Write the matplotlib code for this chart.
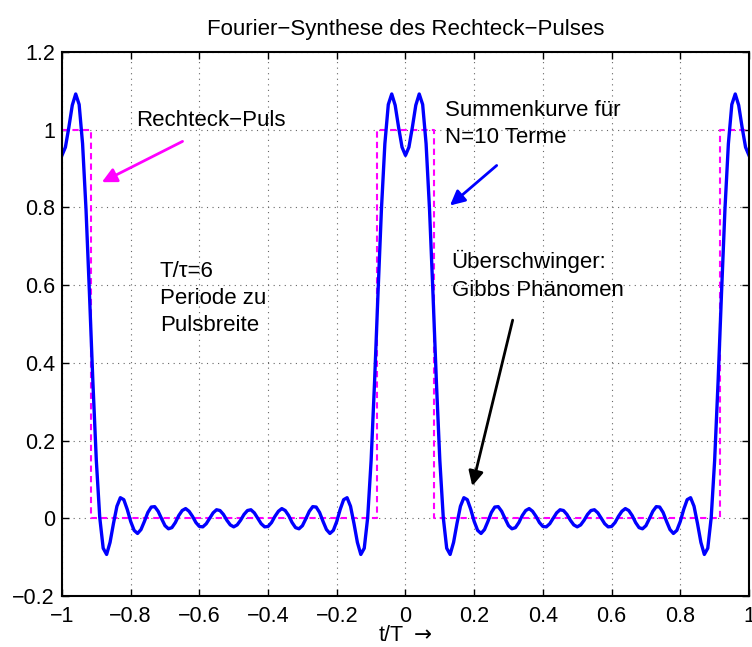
import matplotlib
matplotlib.use('Agg')
import matplotlib.pyplot as plt
import numpy as np

plt.rcParams['font.family'] = ['Liberation Sans', 'DejaVu Sans']
plt.rcParams['mathtext.fontset'] = 'dejavusans'
plt.rcParams['lines.scale_dashes'] = False

# Zeitachse t/T, Abtastung 0.01
t = np.linspace(-1, 1, 201)

summe = [
    0.934, 0.955, 1.006, 1.063, 1.092, 1.065, 0.964, 0.795, 0.579, 0.351,
    0.149, 0.002, -0.077, -0.093, -0.062, -0.013, 0.031, 0.053, 0.048, 0.023,
    -0.008, -0.031, -0.039, -0.029, -0.008, 0.015, 0.029, 0.030, 0.018, -0.001,
    -0.019, -0.027, -0.024, -0.011, 0.007, 0.020, 0.025, 0.018, 0.005, -0.011,
    -0.021, -0.022, -0.014, 0.000, 0.014, 0.022, 0.020, 0.010, -0.005, -0.017,
    -0.022,
    -0.017, -0.005, 0.010, 0.020, 0.022, 0.014, 0.000, -0.014, -0.022, -0.021,
    -0.011, 0.005, 0.018, 0.025, 0.020, 0.007, -0.011, -0.024, -0.027, -0.019,
    -0.001, 0.018, 0.030, 0.029, 0.015, -0.008, -0.029, -0.039, -0.031, -0.008,
    0.023, 0.048, 0.053, 0.031, -0.013, -0.062, -0.093, -0.077, 0.002, 0.149,
    0.351, 0.579, 0.795, 0.964, 1.065, 1.092, 1.063, 1.006, 0.955, 0.934,
    0.955, 1.006, 1.063, 1.092, 1.065, 0.964, 0.795, 0.579, 0.351,
    0.149, 0.002, -0.077, -0.093, -0.062, -0.013, 0.031, 0.053, 0.048, 0.023,
    -0.008, -0.031, -0.039, -0.029, -0.008, 0.015, 0.029, 0.030, 0.018, -0.001,
    -0.019, -0.027, -0.024, -0.011, 0.007, 0.020, 0.025, 0.018, 0.005, -0.011,
    -0.021, -0.022, -0.014, 0.000, 0.014, 0.022, 0.020, 0.010, -0.005, -0.017,
    -0.022,
    -0.017, -0.005, 0.010, 0.020, 0.022, 0.014, 0.000, -0.014, -0.022, -0.021,
    -0.011, 0.005, 0.018, 0.025, 0.020, 0.007, -0.011, -0.024, -0.027, -0.019,
    -0.001, 0.018, 0.030, 0.029, 0.015, -0.008, -0.029, -0.039, -0.031, -0.008,
    0.023, 0.048, 0.053, 0.031, -0.013, -0.062, -0.093, -0.077, 0.002, 0.149,
    0.351, 0.579, 0.795, 0.964, 1.065, 1.092, 1.063, 1.006, 0.955, 0.934,
]

# Rechteck-Puls (T/tau = 6)
puls_t = [-1.0, -0.9167, -0.9167, -0.0833, -0.0833, 0.0833, 0.0833, 0.9167, 0.9167, 1.0]
puls_y = [1, 1, 0, 0, 1, 1, 0, 0, 1, 1]

x_ticks = [-1, -0.8, -0.6, -0.4, -0.2, 0, 0.2, 0.4, 0.6, 0.8, 1]
x_labels = ['\u22121', '\u22120.8', '\u22120.6', '\u22120.4', '\u22120.2', '0',
            '0.2', '0.4', '0.6', '0.8', '1']
y_ticks = [-0.2, 0, 0.2, 0.4, 0.6, 0.8, 1, 1.2]
y_labels = ['\u22120.2', '0', '0.2', '0.4', '0.6', '0.8', '1', '1.2']

fig = plt.figure(figsize=(7.52, 6.47), dpi=100)
ax = fig.add_axes([0.0824, 0.0788, 0.9136, 0.8408])

ax.plot(puls_t, puls_y, color='#ff00ff', lw=1.5, dashes=(4.5, 3))
ax.plot(t, summe, color='#0000ff', lw=2.4)

ax.set_xlim(-1, 1)
ax.set_ylim(-0.2, 1.2)
ax.set_xticks(x_ticks)
ax.set_xticklabels(x_labels)
ax.set_yticks(y_ticks)
ax.set_yticklabels(y_labels)
ax.tick_params(direction='in', length=5, width=1, top=True, right=True,
               labelsize=15.5)
ax.tick_params(axis='x', pad=7)
ax.tick_params(axis='y', pad=5)
for s in ax.spines.values():
    s.set_linewidth(1.5)
ax.grid(True, color='0.4', lw=0.8, dashes=(0.8, 3.2))
ax.set_axisbelow(True)

ax.set_title('Fourier\u2212Synthese des Rechteck\u2212Pulses', fontsize=16, pad=12)
ax.set_xlabel(r't/T $\rightarrow$', fontsize=15.5, labelpad=-1)

# Beschriftungen und Pfeile
fs = 16
ax.text(-0.783, 1.024, 'Rechteck\u2212Puls', fontsize=fs, va='center', ha='left')
ax.annotate('', xy=(-0.884, 0.865), xytext=(-0.649, 0.970),
            arrowprops=dict(arrowstyle='-|>', color='#ff00ff', lw=2,
                            mutation_scale=22, shrinkA=0, shrinkB=0))

ax.text(0.115, 1.015, 'Summenkurve f\u00fcr\nN=10 Terme', fontsize=fs,
        va='center', ha='left', linespacing=1.38)
ax.annotate('', xy=(0.1295, 0.805), xytext=(0.2655, 0.908),
            arrowprops=dict(arrowstyle='-|>', color='#0000ff', lw=2,
                            mutation_scale=22, shrinkA=0, shrinkB=0))

ax.text(-0.715, 0.566, 'T/\u03c4=6\nPeriode zu\nPulsbreite', fontsize=fs,
        va='center', ha='left', linespacing=1.38)

ax.text(0.1345, 0.625, '\u00dcberschwinger:\nGibbs Ph\u00e4nomen', fontsize=fs,
        va='center', ha='left', linespacing=1.38)
ax.annotate('', xy=(0.1945, 0.083), xytext=(0.312, 0.510),
            arrowprops=dict(arrowstyle='-|>', color='black', lw=2,
                            mutation_scale=22, shrinkA=0, shrinkB=0))

fig.savefig('out.png', dpi=100)
